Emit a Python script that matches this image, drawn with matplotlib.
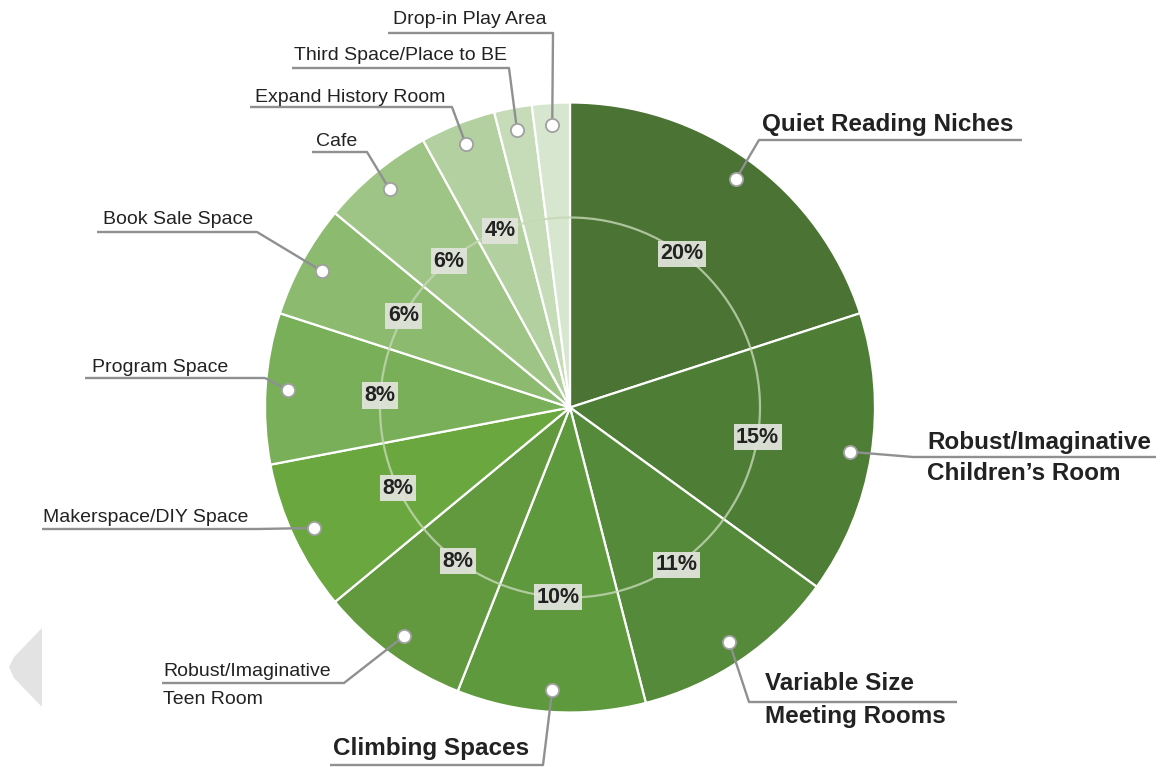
import numpy as np
import matplotlib
matplotlib.use("Agg")
import matplotlib.pyplot as plt
from matplotlib.patches import Circle, Polygon

# ---------------------------------------------------------------- data ----
categories = [
    "Quiet Reading Niches",
    "Robust/Imaginative Children\u2019s Room",
    "Variable Size Meeting Rooms",
    "Climbing Spaces",
    "Robust/Imaginative Teen Room",
    "Makerspace/DIY Space",
    "Program Space",
    "Book Sale Space",
    "Cafe",
    "Expand History Room",
    "Third Space/Place to BE",
    "Drop-in Play Area",
]
shares = [20, 15, 11, 10, 8, 8, 8, 6, 6, 4, 2, 2]
colors = [
    "#4a7334", "#4e7d36", "#568a3b", "#5e993d", "#62993e", "#6aa83f",
    "#79af59", "#8cba6f", "#9fc586", "#b3d0a0", "#c6dcb8", "#d7e6cf",
]

# label text lines (display form)
label_lines = [
    ["Quiet Reading Niches"],
    ["Robust/Imaginative", "Children\u2019s Room"],
    ["Variable Size", "Meeting Rooms"],
    ["Climbing Spaces"],
    ["Robust/Imaginative", "Teen Room"],
    ["Makerspace/DIY Space"],
    ["Program Space"],
    ["Book Sale Space"],
    ["Cafe"],
    ["Expand History Room"],
    ["Third Space/Place to BE"],
    ["Drop-in Play Area"],
]
big_labels = [True, True, True, True] + [False] * 8

# --------------------------------------------------------------- layout ----
W, H = 1167, 767
CX, CY, R = 570, 407.5, 305
RING_R = 190
DOT_R = 283

# (text x, first line centre y, underline y, underline x0, underline x1)
callouts = [
    (762, 124, 140, 759, 1022),
    (927, 442, 457, 913, 1156),
    (765, 684, 702, 749, 957),
    (333, 748, 765, 330, 543),
    (163, 671, 683, 162, 344),
    (43, 517, 529, 42, 257),
    (92, 367, 378, 85, 265),
    (103, 220, 232, 97, 257),
    (316, 141, 152, 312, 367),
    (255, 97, 107, 250, 452),
    (294, 55, 68, 292, 509),
    (393, 20, 33, 388, 553),
]

LINE_COL = "#8e9092"
TEXT_COL = "#222222"

fig = plt.figure(figsize=(W / 100, H / 100), dpi=100)
ax = fig.add_axes([0, 0, 1, 1])

wedges, _ = ax.pie(shares, colors=colors, startangle=-90, counterclock=True,
                   center=(CX, CY), radius=R,
                   wedgeprops=dict(edgecolor="white", linewidth=1.6))

ax.set_xlim(0, W)
ax.set_ylim(H, 0)
ax.set_aspect("equal")
ax.axis("off")

# inner guide ring
ax.add_patch(Circle((CX, CY), RING_R, fill=False, ec="#c5d8b6", lw=1.6,
                    alpha=0.8, zorder=3))

for w, v, lines, big, (tx, ty, uy, ux0, ux1) in zip(
        wedges, shares, label_lines, big_labels, callouts):
    mid = np.deg2rad((w.theta1 + w.theta2) / 2)

    # percentage tag on the ring
    if v >= 4:
        px, py = CX + RING_R * np.cos(mid), CY + RING_R * np.sin(mid)
        ax.text(px, py, f"{v}%", ha="center", va="center", fontsize=15.5,
                fontweight="bold", family="Liberation Sans", color=TEXT_COL,
                zorder=6,
                bbox=dict(boxstyle="square,pad=0.12", fc="#e0e3da",
                          ec="none", alpha=0.95))

    # leader: dot -> elbow -> underline
    dx, dy = CX + DOT_R * np.cos(mid), CY + DOT_R * np.sin(mid)
    if abs(ux0 - dx) < abs(ux1 - dx):
        path = [(dx, dy), (ux0, uy), (ux1, uy)]
    else:
        path = [(dx, dy), (ux1, uy), (ux0, uy)]
    xs, ys = zip(*path)
    ax.plot(xs, ys, color=LINE_COL, lw=1.7, solid_capstyle="butt", zorder=4)
    ax.plot(dx, dy, "o", ms=9.5, mfc="white", mec="#a0a0a0", mew=1.3,
            zorder=5)

    # label text
    if big:
        fs, fw, gap = 17.5, "bold", 32
    else:
        fs, fw, gap = 14, "normal", 28
    for i, line in enumerate(lines):
        ax.text(tx, ty + i * gap, line, ha="left", va="center", fontsize=fs,
                fontweight=fw, family="Liberation Sans", color=TEXT_COL,
                zorder=6)

# faint slider arrow at the left edge
ax.add_patch(Polygon([(42, 628), (14, 657), (9, 667), (14, 678), (42, 707)],
                     closed=True, fc="#e3e3e3", ec="none", zorder=0))

fig.savefig("out.png", dpi=100)
